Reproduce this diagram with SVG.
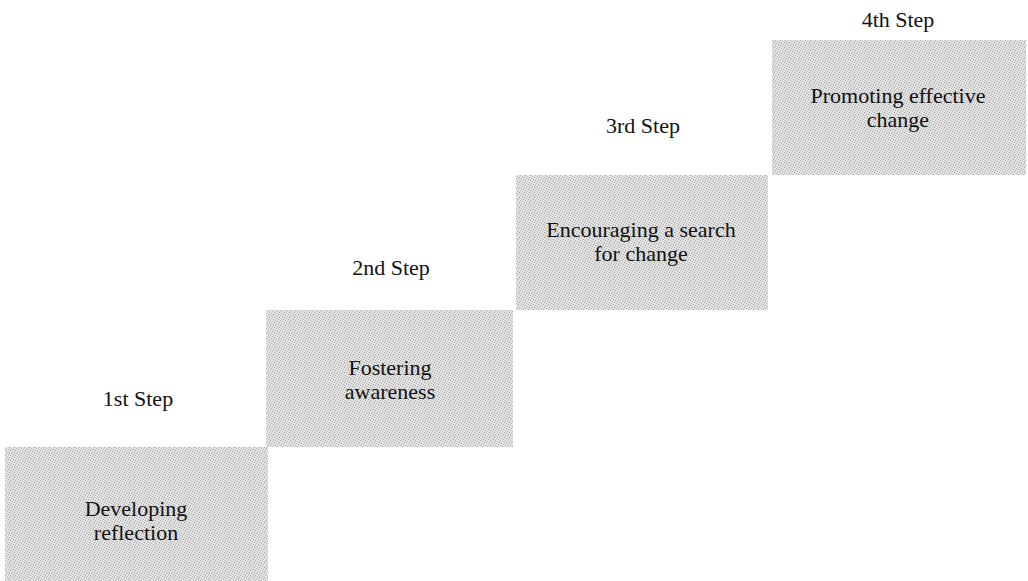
<svg xmlns="http://www.w3.org/2000/svg" width="1028" height="581" viewBox="0 0 1028 581">
  <defs>
    <pattern id="stipple" width="5" height="5" patternUnits="userSpaceOnUse">
      <rect width="5" height="5" fill="#e2e2e2"/>
      <rect x="0" y="0" width="1" height="1" fill="#a8a8a8"/>
      <rect x="2" y="1" width="1" height="1" fill="#b4b4b4"/>
      <rect x="4" y="2" width="1" height="1" fill="#9c9c9c"/>
      <rect x="1" y="3" width="1" height="1" fill="#b0b0b0"/>
      <rect x="3" y="4" width="1" height="1" fill="#a4a4a4"/>
    </pattern>
  </defs>
  <style>
    .box { fill: url(#stipple); }
    .lbl { font-family: "Liberation Serif", "Times New Roman", serif; font-size: 22px; fill: #111; text-anchor: middle; }
    .step { font-family: "Liberation Serif", "Times New Roman", serif; font-size: 22px; fill: #111; text-anchor: middle; }
  </style>
  <rect width="1028" height="581" fill="#ffffff"/>
  <g id="step1">
    <rect class="box" x="5" y="447" width="263" height="134"/>
    <text class="step" x="138" y="406">1st Step</text>
    <text class="lbl" x="136" y="516">Developing</text>
    <text class="lbl" x="136" y="540">reflection</text>
  </g>
  <g id="step2">
    <rect class="box" x="266" y="310" width="247" height="137"/>
    <text class="step" x="391" y="275">2nd Step</text>
    <text class="lbl" x="390" y="375">Fostering</text>
    <text class="lbl" x="390" y="399">awareness</text>
  </g>
  <g id="step3">
    <rect class="box" x="516" y="175" width="252" height="135"/>
    <text class="step" x="643" y="133">3rd Step</text>
    <text class="lbl" x="641" y="237">Encouraging a search</text>
    <text class="lbl" x="641" y="261">for change</text>
  </g>
  <g id="step4">
    <rect class="box" x="772" y="40" width="254" height="135"/>
    <text class="step" x="898" y="27">4th Step</text>
    <text class="lbl" x="898" y="103">Promoting effective</text>
    <text class="lbl" x="898" y="127">change</text>
  </g>
  <g id="connectors"></g>
</svg>
